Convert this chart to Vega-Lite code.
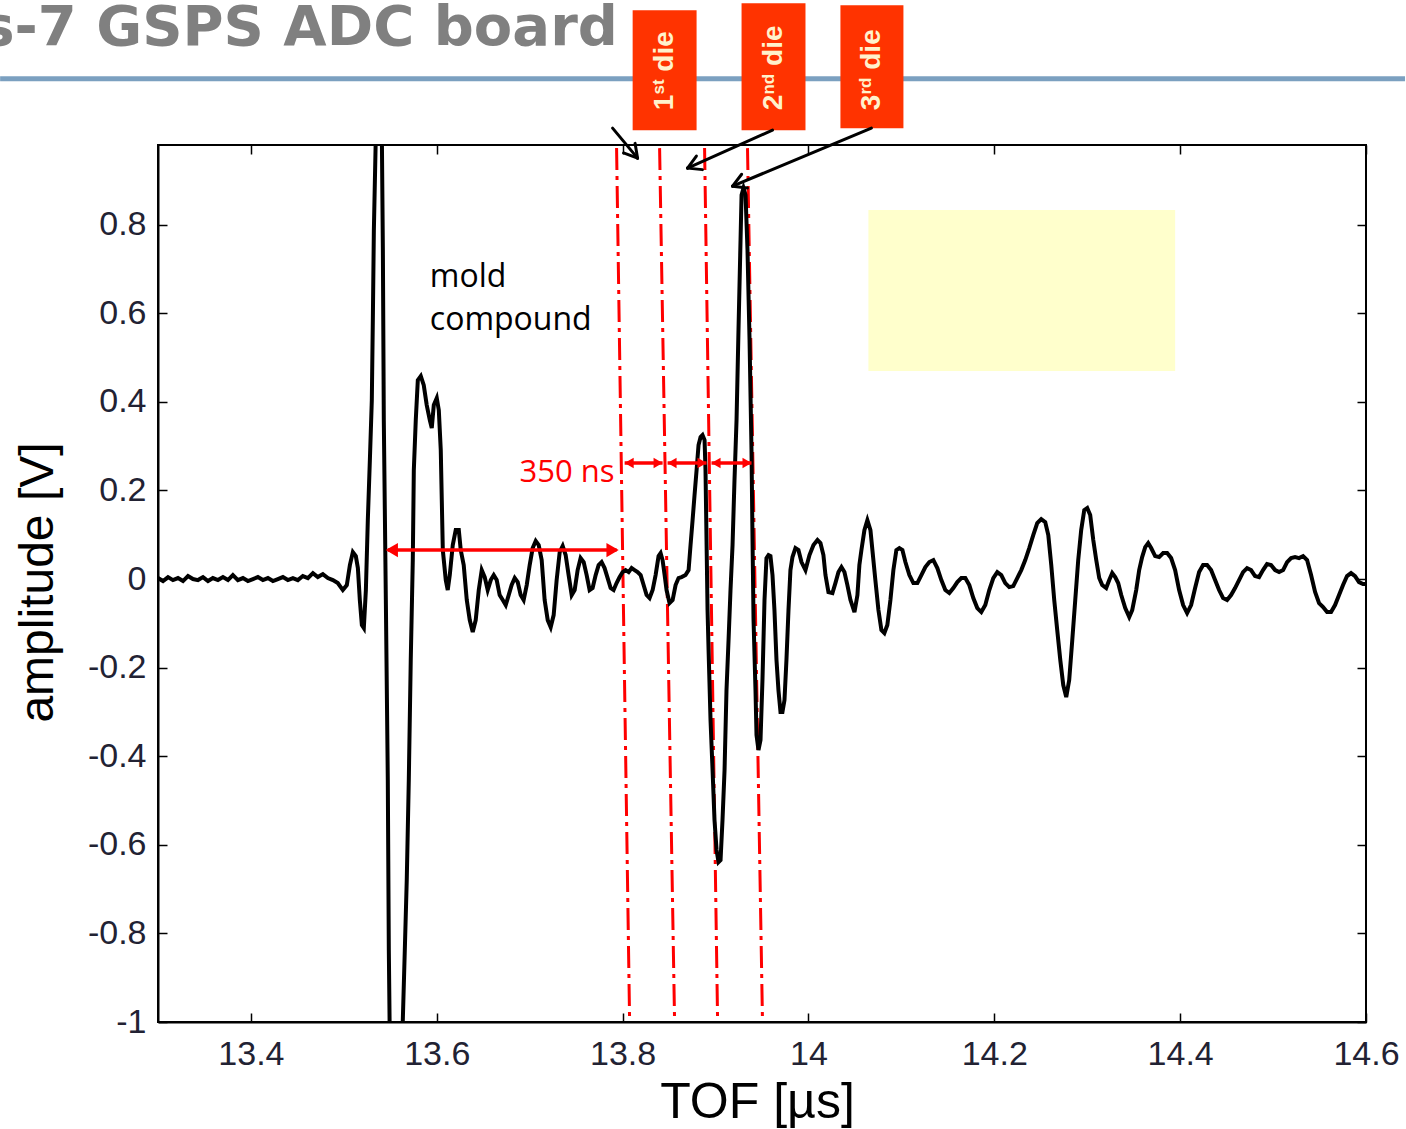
{
  "$schema": "https://vega.github.io/schema/vega-lite/v6.json",
  "width": 1208,
  "height": 877,
  "autosize": {"type": "none"},
  "padding": {"left": 158, "top": 145, "right": 40, "bottom": 107},
  "background": "white",
  "config": {"view": {"stroke": "black", "strokeWidth": 2}},
  "resolve": {"axis": {"x": "independent", "y": "independent"}},
  "datasets": {
    "wave": [
      {"t":13.3000,"v":0.0023},{"t":13.3054,"v":-0.0045},{"t":13.3108,"v":0.0045},{"t":13.3161,"v":-0.0023},{"t":13.3215,"v":0.0023},{"t":13.3269,"v":-0.0045},{"t":13.3323,"v":0.0068},{"t":13.3376,"v":0},{"t":13.3430,"v":-0.0023},{"t":13.3484,"v":0.0045},{"t":13.3538,"v":-0.0045},{"t":13.3591,"v":0.0023},{"t":13.3645,"v":-0.0023},{"t":13.3699,"v":0.0045},{"t":13.3753,"v":-0.0023},{"t":13.3806,"v":0.009},{"t":13.3860,"v":-0.0023},{"t":13.3914,"v":0.0023},{"t":13.3968,"v":-0.0045},{"t":13.4022,"v":0},{"t":13.4075,"v":0.0045},{"t":13.4129,"v":-0.0023},{"t":13.4183,"v":0.0023},{"t":13.4237,"v":-0.0045},{"t":13.4290,"v":0},{"t":13.4344,"v":0.0045},{"t":13.4398,"v":-0.0023},{"t":13.4452,"v":0.0023},{"t":13.4505,"v":-0.0023},{"t":13.4559,"v":0.0068},{"t":13.4613,"v":0.0023},{"t":13.4667,"v":0.0135},{"t":13.4720,"v":0.0045},{"t":13.4774,"v":0.0113},{"t":13.4828,"v":0.0023},{"t":13.4882,"v":-0.0023},{"t":13.4935,"v":-0.009},{"t":13.4989,"v":-0.0248},{"t":13.5032,"v":-0.0135},{"t":13.5065,"v":0.0316},{"t":13.5097,"v":0.0609},{"t":13.5129,"v":0.0519},{"t":13.5151,"v":0.0248},{"t":13.5172,"v":-0.0474},{"t":13.5194,"v":-0.1038},{"t":13.5215,"v":-0.1106},{"t":13.5237,"v":-0.0248},{"t":13.5258,"v":0.1332},{"t":13.5280,"v":0.2686},{"t":13.5301,"v":0.4041},{"t":13.5312,"v":0.5847},{"t":13.5323,"v":0.7878},{"t":13.5344,"v":1.0},{"t":13.5409,"v":1.0},{"t":13.5420,"v":0.7427},{"t":13.5430,"v":0.3589},{"t":13.5452,"v":-0.0474},{"t":13.5473,"v":-0.4537},{"t":13.5484,"v":-0.8375},{"t":13.5495,"v":-1.05},{"t":13.5624,"v":-1.05},{"t":13.5634,"v":-1.0},{"t":13.5656,"v":-0.8375},{"t":13.5677,"v":-0.6795},{"t":13.5699,"v":-0.4537},{"t":13.5720,"v":-0.1828},{"t":13.5742,"v":0.0429},{"t":13.5753,"v":0.2461},{"t":13.5774,"v":0.3589},{"t":13.5796,"v":0.4492},{"t":13.5828,"v":0.4582},{"t":13.5860,"v":0.4379},{"t":13.5892,"v":0.3928},{"t":13.5925,"v":0.3589},{"t":13.5946,"v":0.3409},{"t":13.5968,"v":0.3928},{"t":13.6000,"v":0.4086},{"t":13.6022,"v":0.3815},{"t":13.6043,"v":0.2912},{"t":13.6054,"v":0.1783},{"t":13.6065,"v":0.0655},{"t":13.6097,"v":-0.0023},{"t":13.6118,"v":-0.0248},{"t":13.6140,"v":0.009},{"t":13.6172,"v":0.0767},{"t":13.6204,"v":0.1106},{"t":13.6237,"v":0.1106},{"t":13.6258,"v":0.0655},{"t":13.6290,"v":0.0316},{"t":13.6323,"v":-0.0474},{"t":13.6355,"v":-0.0926},{"t":13.6387,"v":-0.1196},{"t":13.6419,"v":-0.0926},{"t":13.6452,"v":-0.0248},{"t":13.6484,"v":0.0203},{"t":13.6516,"v":0.0045},{"t":13.6548,"v":-0.0248},{"t":13.6581,"v":-0.0023},{"t":13.6613,"v":0.009},{"t":13.6645,"v":-0.0023},{"t":13.6677,"v":-0.0361},{"t":13.6710,"v":-0.0474},{"t":13.6742,"v":-0.0587},{"t":13.6774,"v":-0.0361},{"t":13.6806,"v":-0.0135},{"t":13.6839,"v":0.0023},{"t":13.6871,"v":-0.0068},{"t":13.6903,"v":-0.0361},{"t":13.6935,"v":-0.0474},{"t":13.6968,"v":-0.0135},{"t":13.7000,"v":0.0316},{"t":13.7032,"v":0.07},{"t":13.7065,"v":0.0858},{"t":13.7097,"v":0.0767},{"t":13.7129,"v":0.0429},{"t":13.7161,"v":-0.0474},{"t":13.7194,"v":-0.0926},{"t":13.7226,"v":-0.1084},{"t":13.7258,"v":-0.0813},{"t":13.7290,"v":-0.0023},{"t":13.7323,"v":0.0609},{"t":13.7355,"v":0.0745},{"t":13.7387,"v":0.0542},{"t":13.7419,"v":0.009},{"t":13.7452,"v":-0.0361},{"t":13.7484,"v":-0.0248},{"t":13.7516,"v":0.0203},{"t":13.7548,"v":0.0474},{"t":13.7581,"v":0.0384},{"t":13.7613,"v":0.009},{"t":13.7645,"v":-0.0248},{"t":13.7677,"v":-0.0203},{"t":13.7710,"v":0.009},{"t":13.7742,"v":0.0316},{"t":13.7774,"v":0.0384},{"t":13.7806,"v":0.0248},{"t":13.7839,"v":0.0023},{"t":13.7871,"v":-0.0203},{"t":13.7903,"v":-0.0248},{"t":13.7935,"v":-0.009},{"t":13.7968,"v":0.0045},{"t":13.8000,"v":0.0158},{"t":13.8032,"v":0.0203},{"t":13.8065,"v":0.0158},{"t":13.8097,"v":0.0248},{"t":13.8129,"v":0.0203},{"t":13.8161,"v":0.0158},{"t":13.8194,"v":0.009},{"t":13.8226,"v":-0.0135},{"t":13.8258,"v":-0.0361},{"t":13.8290,"v":-0.0429},{"t":13.8323,"v":-0.0248},{"t":13.8355,"v":0.009},{"t":13.8387,"v":0.0519},{"t":13.8409,"v":0.0587},{"t":13.8430,"v":0.0429},{"t":13.8452,"v":0.009},{"t":13.8473,"v":-0.0248},{"t":13.8505,"v":-0.0542},{"t":13.8538,"v":-0.0474},{"t":13.8570,"v":-0.0135},{"t":13.8602,"v":0.0023},{"t":13.8634,"v":0.0045},{"t":13.8677,"v":0.009},{"t":13.8710,"v":0.0203},{"t":13.8731,"v":0.0767},{"t":13.8753,"v":0.1332},{"t":13.8774,"v":0.1896},{"t":13.8796,"v":0.2461},{"t":13.8817,"v":0.3025},{"t":13.8839,"v":0.3205},{"t":13.8860,"v":0.3251},{"t":13.8882,"v":0.3138},{"t":13.8892,"v":0.2461},{"t":13.8903,"v":0.088},{"t":13.8914,"v":-0.07},{"t":13.8925,"v":-0.1603},{"t":13.8946,"v":-0.3183},{"t":13.8968,"v":-0.4312},{"t":13.8989,"v":-0.544},{"t":13.9011,"v":-0.6117},{"t":13.9032,"v":-0.6388},{"t":13.9054,"v":-0.6343},{"t":13.9075,"v":-0.544},{"t":13.9097,"v":-0.4312},{"t":13.9118,"v":-0.2506},{"t":13.9140,"v":-0.1377},{"t":13.9161,"v":-0.0248},{"t":13.9183,"v":0.0767},{"t":13.9204,"v":0.2235},{"t":13.9226,"v":0.3589},{"t":13.9247,"v":0.5621},{"t":13.9269,"v":0.7652},{"t":13.9280,"v":0.8668},{"t":13.9301,"v":0.8826},{"t":13.9323,"v":0.8668},{"t":13.9344,"v":0.7427},{"t":13.9366,"v":0.5395},{"t":13.9387,"v":0.2912},{"t":13.9398,"v":0.088},{"t":13.9409,"v":-0.0926},{"t":13.9430,"v":-0.2506},{"t":13.9441,"v":-0.3521},{"t":13.9462,"v":-0.386},{"t":13.9484,"v":-0.3634},{"t":13.9505,"v":-0.228},{"t":13.9527,"v":-0.0474},{"t":13.9548,"v":0.0474},{"t":13.9570,"v":0.0542},{"t":13.9591,"v":0.0519},{"t":13.9613,"v":0.009},{"t":13.9634,"v":-0.07},{"t":13.9656,"v":-0.1828},{"t":13.9677,"v":-0.2506},{"t":13.9699,"v":-0.3002},{"t":13.9720,"v":-0.3002},{"t":13.9742,"v":-0.2731},{"t":13.9763,"v":-0.1828},{"t":13.9785,"v":-0.07},{"t":13.9806,"v":0.0203},{"t":13.9828,"v":0.0497},{"t":13.9860,"v":0.07},{"t":13.9892,"v":0.0655},{"t":13.9925,"v":0.0384},{"t":13.9968,"v":0.0203},{"t":14.0011,"v":0.0542},{"t":14.0054,"v":0.0767},{"t":14.0097,"v":0.088},{"t":14.0129,"v":0.0813},{"t":14.0161,"v":0.0542},{"t":14.0183,"v":0.009},{"t":14.0215,"v":-0.0293},{"t":14.0258,"v":-0.0316},{"t":14.0290,"v":-0.009},{"t":14.0323,"v":0.0158},{"t":14.0355,"v":0.0271},{"t":14.0387,"v":0.0158},{"t":14.0419,"v":-0.0135},{"t":14.0452,"v":-0.0474},{"t":14.0495,"v":-0.0745},{"t":14.0527,"v":-0.0361},{"t":14.0548,"v":0.0316},{"t":14.0570,"v":0.0655},{"t":14.0602,"v":0.1106},{"t":14.0634,"v":0.1332},{"t":14.0667,"v":0.1106},{"t":14.0688,"v":0.0655},{"t":14.0720,"v":-0.0023},{"t":14.0753,"v":-0.07},{"t":14.0785,"v":-0.1151},{"t":14.0817,"v":-0.1219},{"t":14.0849,"v":-0.1038},{"t":14.0882,"v":-0.0474},{"t":14.0914,"v":0.0203},{"t":14.0946,"v":0.0655},{"t":14.0978,"v":0.07},{"t":14.1011,"v":0.0655},{"t":14.1043,"v":0.0384},{"t":14.1086,"v":0.009},{"t":14.1129,"v":-0.009},{"t":14.1172,"v":-0.009},{"t":14.1215,"v":0.009},{"t":14.1258,"v":0.0271},{"t":14.1301,"v":0.0384},{"t":14.1344,"v":0.0429},{"t":14.1387,"v":0.0248},{"t":14.1430,"v":-0.0023},{"t":14.1473,"v":-0.0248},{"t":14.1516,"v":-0.0316},{"t":14.1559,"v":-0.0203},{"t":14.1602,"v":-0.0068},{"t":14.1645,"v":0.0023},{"t":14.1688,"v":0.0023},{"t":14.1731,"v":-0.0135},{"t":14.1774,"v":-0.0429},{"t":14.1817,"v":-0.0655},{"t":14.1860,"v":-0.0745},{"t":14.1903,"v":-0.0587},{"t":14.1946,"v":-0.0248},{"t":14.1989,"v":0.0023},{"t":14.2032,"v":0.0158},{"t":14.2075,"v":0.009},{"t":14.2118,"v":-0.009},{"t":14.2161,"v":-0.0181},{"t":14.2204,"v":-0.0158},{"t":14.2247,"v":0.0023},{"t":14.2290,"v":0.0203},{"t":14.2333,"v":0.0429},{"t":14.2376,"v":0.07},{"t":14.2419,"v":0.0993},{"t":14.2462,"v":0.1264},{"t":14.2505,"v":0.1354},{"t":14.2548,"v":0.1287},{"t":14.2581,"v":0.0993},{"t":14.2613,"v":0.0316},{"t":14.2645,"v":-0.0474},{"t":14.2677,"v":-0.1151},{"t":14.2710,"v":-0.1828},{"t":14.2742,"v":-0.2393},{"t":14.2774,"v":-0.2664},{"t":14.2806,"v":-0.228},{"t":14.2839,"v":-0.1377},{"t":14.2871,"v":-0.0474},{"t":14.2903,"v":0.0429},{"t":14.2935,"v":0.1106},{"t":14.2968,"v":0.1558},{"t":14.3000,"v":0.1603},{"t":14.3032,"v":0.1445},{"t":14.3065,"v":0.088},{"t":14.3097,"v":0.0429},{"t":14.3129,"v":0.0023},{"t":14.3161,"v":-0.0135},{"t":14.3204,"v":-0.0203},{"t":14.3237,"v":-0.0023},{"t":14.3269,"v":0.0135},{"t":14.3301,"v":0.0045},{"t":14.3333,"v":-0.009},{"t":14.3366,"v":-0.0361},{"t":14.3409,"v":-0.0655},{"t":14.3452,"v":-0.0858},{"t":14.3484,"v":-0.07},{"t":14.3527,"v":-0.0248},{"t":14.3559,"v":0.0203},{"t":14.3591,"v":0.0497},{"t":14.3624,"v":0.0722},{"t":14.3656,"v":0.0813},{"t":14.3688,"v":0.07},{"t":14.3731,"v":0.0519},{"t":14.3774,"v":0.0497},{"t":14.3817,"v":0.0587},{"t":14.3860,"v":0.0587},{"t":14.3903,"v":0.0474},{"t":14.3946,"v":0.0203},{"t":14.3989,"v":-0.0248},{"t":14.4032,"v":-0.0587},{"t":14.4075,"v":-0.0767},{"t":14.4118,"v":-0.0587},{"t":14.4161,"v":-0.0203},{"t":14.4204,"v":0.0158},{"t":14.4247,"v":0.0316},{"t":14.4290,"v":0.0316},{"t":14.4333,"v":0.0203},{"t":14.4376,"v":-0.0023},{"t":14.4419,"v":-0.0248},{"t":14.4462,"v":-0.0429},{"t":14.4505,"v":-0.0474},{"t":14.4548,"v":-0.0361},{"t":14.4591,"v":-0.0203},{"t":14.4634,"v":-0.0023},{"t":14.4677,"v":0.0158},{"t":14.4720,"v":0.0248},{"t":14.4763,"v":0.0203},{"t":14.4806,"v":0.0068},{"t":14.4849,"v":0.0045},{"t":14.4892,"v":0.0203},{"t":14.4935,"v":0.0339},{"t":14.4978,"v":0.0316},{"t":14.5022,"v":0.0203},{"t":14.5065,"v":0.0158},{"t":14.5108,"v":0.0203},{"t":14.5151,"v":0.0384},{"t":14.5194,"v":0.0474},{"t":14.5237,"v":0.0497},{"t":14.5280,"v":0.0474},{"t":14.5323,"v":0.0519},{"t":14.5366,"v":0.0429},{"t":14.5409,"v":0.009},{"t":14.5452,"v":-0.0293},{"t":14.5495,"v":-0.0542},{"t":14.5538,"v":-0.0632},{"t":14.5581,"v":-0.0745},{"t":14.5624,"v":-0.0745},{"t":14.5667,"v":-0.0587},{"t":14.5710,"v":-0.0361},{"t":14.5753,"v":-0.0135},{"t":14.5796,"v":0.0068},{"t":14.5839,"v":0.0135},{"t":14.5882,"v":0.0068},{"t":14.5925,"v":-0.0068},{"t":14.5968,"v":-0.0113},{"t":14.5989,"v":-0.0113}
    ],
    "dashlines": [
      {"t":13.7935,"v":0.973,"t2":13.8075,"v2":-0.995},
      {"t":13.8398,"v":0.973,"t2":13.8559,"v2":-0.995},
      {"t":13.8882,"v":0.973,"t2":13.9022,"v2":-0.995},
      {"t":13.9344,"v":0.973,"t2":13.9505,"v2":-0.995}
    ],
    "redShafts": [
      {"t":13.5473,"t2":13.7935,"v":0.0655},
      {"t":13.8022,"t2":13.8430,"v":0.2619},
      {"t":13.8484,"t2":13.8903,"v":0.2619},
      {"t":13.8957,"t2":13.9387,"v":0.2619}
    ],
    "bigHeads": [
      {"t":13.5516,"v":0.0655,"dir":"left"},
      {"t":13.7892,"v":0.0655,"dir":"right"}
    ],
    "smallHeads": [
      {"t":13.8070,"v":0.2619,"dir":"left"},{"t":13.8382,"v":0.2619,"dir":"right"},
      {"t":13.8532,"v":0.2619,"dir":"left"},{"t":13.8855,"v":0.2619,"dir":"right"},
      {"t":13.9005,"v":0.2619,"dir":"left"},{"t":13.9339,"v":0.2619,"dir":"right"}
    ],
    "blackArrows": [
      {"t":13.7892,"v":1.0181,"t2":13.8161,"v2":0.9503},
      {"t":13.8161,"v":0.9503,"t2":13.8134,"v2":0.9837},
      {"t":13.8161,"v":0.9503,"t2":13.8010,"v2":0.9621},
      {"t":13.9613,"v":1.0135,"t2":13.8699,"v2":0.9278},
      {"t":13.8699,"v":0.9278,"t2":13.8859,"v2":0.9244},
      {"t":13.8699,"v":0.9278,"t2":13.8794,"v2":0.9551},
      {"t":14.0677,"v":1.0181,"t2":13.9183,"v2":0.8871},
      {"t":13.9183,"v":0.8871,"t2":13.9343,"v2":0.8829},
      {"t":13.9183,"v":0.8871,"t2":13.9281,"v2":0.9140}
    ],
    "boxes": [
      {"t":13.8108,"t2":13.8796,"v":1.2844,"v2":1.0135},
      {"t":13.9280,"t2":13.9968,"v":1.3002,"v2":1.0135},
      {"t":14.0344,"t2":14.1022,"v":1.2957,"v2":1.0180}
    ],
    "boxMain": [
      {"t":13.8538,"v":1.0587,"s":"1"},{"t":13.8538,"v":1.1456,"s":"die"},
      {"t":13.9720,"v":1.0587,"s":"2"},{"t":13.9720,"v":1.1585,"s":"die"},
      {"t":14.0774,"v":1.0587,"s":"3"},{"t":14.0774,"v":1.1499,"s":"die"}
    ],
    "boxSup": [
      {"t":13.8441,"v":1.0939,"s":"st"},
      {"t":13.9624,"v":1.0939,"s":"nd"},
      {"t":14.0677,"v":1.0939,"s":"rd"}
    ],
    "yellow": [{"t":14.0645,"t2":14.3946,"v":0.833,"v2":0.4695}],
    "title": [{"t":13.1097,"v":1.2054,"s":"s-7 GSPS ADC board"}],
    "blueLine": [{"t":13.1301,"t2":14.642,"v":1.1298}],
    "mold": [{"t":13.5925,"v":0.6591,"s":"mold"},{"t":13.5925,"v":0.5621,"s":"compound"}],
    "ns": [{"t":13.7914,"v":0.219,"s":"350 ns"}]
  },
  "layer": [
    {
      "data": {"name": "yellow"},
      "mark": {"type": "rect", "color": "#FFFFCC"},
      "encoding": {
        "x": {"field": "t", "type": "quantitative", "scale": {"domain": [13.3, 14.6], "nice": false, "zero": false},
              "axis": {"orient": "top", "values": [13.4,13.6,13.8,14,14.2,14.4,14.6], "labels": false, "title": null, "grid": false, "domain": false, "tickSize": -9, "tickColor": "black", "tickWidth": 1.5}},
        "x2": {"field": "t2"},
        "y": {"field": "v", "type": "quantitative", "scale": {"domain": [-1, 0.98], "nice": false, "zero": false},
              "axis": {"orient": "right", "values": [-1,-0.8,-0.6,-0.4,-0.2,0,0.2,0.4,0.6,0.8], "labels": false, "title": null, "grid": false, "domain": false, "tickSize": -9, "tickColor": "black", "tickWidth": 1.5}},
        "y2": {"field": "v2"}
      }
    },
    {
      "data": {"name": "title"},
      "mark": {"type": "text", "align": "left", "baseline": "alphabetic", "font": "DejaVu Sans", "fontWeight": "bold", "fontSize": 56, "color": "#808080"},
      "encoding": {
        "x": {"field": "t", "type": "quantitative", "scale": {"domain": [13.3, 14.6], "nice": false, "zero": false}, "axis": null},
        "y": {"field": "v", "type": "quantitative", "scale": {"domain": [-1, 0.98], "nice": false, "zero": false}, "axis": null},
        "text": {"field": "s"}
      }
    },
    {
      "data": {"name": "blueLine"},
      "mark": {"type": "rule", "color": "#7BA0C0", "strokeWidth": 5},
      "encoding": {
        "x": {"field": "t", "type": "quantitative", "scale": {"domain": [13.3, 14.6], "nice": false, "zero": false}, "axis": null},
        "x2": {"field": "t2"},
        "y": {"field": "v", "type": "quantitative", "scale": {"domain": [-1, 0.98], "nice": false, "zero": false}, "axis": null}
      }
    },
    {
      "data": {"name": "boxes"},
      "mark": {"type": "rect", "color": "#FF3300"},
      "encoding": {
        "x": {"field": "t", "type": "quantitative", "scale": {"domain": [13.3, 14.6], "nice": false, "zero": false}, "axis": null},
        "x2": {"field": "t2"},
        "y": {"field": "v", "type": "quantitative", "scale": {"domain": [-1, 0.98], "nice": false, "zero": false}, "axis": null},
        "y2": {"field": "v2"}
      }
    },
    {
      "data": {"name": "boxMain"},
      "mark": {"type": "text", "angle": 270, "align": "left", "baseline": "alphabetic", "font": "Liberation Sans", "fontWeight": "bold", "fontSize": 28, "color": "#FFF2CC"},
      "encoding": {
        "x": {"field": "t", "type": "quantitative", "scale": {"domain": [13.3, 14.6], "nice": false, "zero": false}, "axis": null},
        "y": {"field": "v", "type": "quantitative", "scale": {"domain": [-1, 0.98], "nice": false, "zero": false}, "axis": null},
        "text": {"field": "s"}
      }
    },
    {
      "data": {"name": "boxSup"},
      "mark": {"type": "text", "angle": 270, "align": "left", "baseline": "alphabetic", "font": "Liberation Sans", "fontWeight": "bold", "fontSize": 17, "color": "#FFF2CC"},
      "encoding": {
        "x": {"field": "t", "type": "quantitative", "scale": {"domain": [13.3, 14.6], "nice": false, "zero": false}, "axis": null},
        "y": {"field": "v", "type": "quantitative", "scale": {"domain": [-1, 0.98], "nice": false, "zero": false}, "axis": null},
        "text": {"field": "s"}
      }
    },
    {
      "data": {"name": "dashlines"},
      "mark": {"type": "rule", "color": "#FF0000", "strokeWidth": 3, "strokeDash": [22, 6, 4, 6]},
      "encoding": {
        "x": {"field": "t", "type": "quantitative", "scale": {"domain": [13.3, 14.6], "nice": false, "zero": false}, "axis": null},
        "x2": {"field": "t2"},
        "y": {"field": "v", "type": "quantitative", "scale": {"domain": [-1, 0.98], "nice": false, "zero": false}, "axis": null},
        "y2": {"field": "v2"}
      }
    },
    {
      "data": {"name": "wave"},
      "mark": {"type": "line", "color": "black", "strokeWidth": 4, "clip": true, "strokeJoin": "miter"},
      "encoding": {
        "x": {"field": "t", "type": "quantitative", "scale": {"domain": [13.3, 14.6], "nice": false, "zero": false},
              "axis": {"orient": "bottom", "values": [13.4,13.6,13.8,14,14.2,14.4,14.6], "format": ".1~f", "title": "TOF [µs]", "grid": false,
                       "tickSize": -9, "tickColor": "black", "tickWidth": 1.5, "domainColor": "black", "domainWidth": 2,
                       "labelFont": "Liberation Sans", "labelFontSize": 34, "labelColor": "#222233", "labelPadding": 24, "labelFlush": false, "labelOverlap": false,
                       "titleFont": "Liberation Sans", "titleFontSize": 50, "titleFontWeight": "normal", "titleColor": "black", "titleBaseline": "alphabetic", "titleY": 95, "titleX": 599}},
        "y": {"field": "v", "type": "quantitative", "scale": {"domain": [-1, 0.98], "nice": false, "zero": false},
              "axis": {"orient": "left", "values": [-1,-0.8,-0.6,-0.4,-0.2,0,0.2,0.4,0.6,0.8], "labelExpr": "replace(format(datum.value, '.1~f'), '−', '-')", "title": "amplitude [V]", "grid": false,
                       "tickSize": -9, "tickColor": "black", "tickWidth": 1.5, "domainColor": "black", "domainWidth": 2,
                       "labelFont": "Liberation Sans", "labelFontSize": 34, "labelColor": "#222233", "labelPadding": 21, "labelOverlap": false, "labelFlush": false,
                       "titleFont": "Liberation Sans", "titleFontSize": 48, "titleFontWeight": "normal", "titleColor": "black", "titleAngle": 270, "titleBaseline": "alphabetic", "titleAlign": "center", "titleX": -106, "titleY": 437}}
      }
    },
    {
      "data": {"name": "redShafts"},
      "mark": {"type": "rule", "color": "#FF0000", "strokeWidth": 3.5},
      "encoding": {
        "x": {"field": "t", "type": "quantitative", "scale": {"domain": [13.3, 14.6], "nice": false, "zero": false}, "axis": null},
        "x2": {"field": "t2"},
        "y": {"field": "v", "type": "quantitative", "scale": {"domain": [-1, 0.98], "nice": false, "zero": false}, "axis": null}
      }
    },
    {
      "data": {"name": "bigHeads"},
      "mark": {"type": "point", "filled": true, "color": "#FF0000", "opacity": 1, "size": 200, "strokeWidth": 0},
      "encoding": {
        "x": {"field": "t", "type": "quantitative", "scale": {"domain": [13.3, 14.6], "nice": false, "zero": false}, "axis": null},
        "y": {"field": "v", "type": "quantitative", "scale": {"domain": [-1, 0.98], "nice": false, "zero": false}, "axis": null},
        "shape": {"field": "dir", "type": "nominal", "scale": {"domain": ["left", "right"], "range": ["triangle-left", "triangle-right"]}, "legend": null}
      }
    },
    {
      "data": {"name": "smallHeads"},
      "mark": {"type": "point", "filled": true, "color": "#FF0000", "opacity": 1, "size": 110, "strokeWidth": 0},
      "encoding": {
        "x": {"field": "t", "type": "quantitative", "scale": {"domain": [13.3, 14.6], "nice": false, "zero": false}, "axis": null},
        "y": {"field": "v", "type": "quantitative", "scale": {"domain": [-1, 0.98], "nice": false, "zero": false}, "axis": null},
        "shape": {"field": "dir", "type": "nominal", "scale": {"domain": ["left", "right"], "range": ["triangle-left", "triangle-right"]}, "legend": null}
      }
    },
    {
      "data": {"name": "blackArrows"},
      "mark": {"type": "rule", "color": "black", "strokeWidth": 3, "strokeCap": "round"},
      "encoding": {
        "x": {"field": "t", "type": "quantitative", "scale": {"domain": [13.3, 14.6], "nice": false, "zero": false}, "axis": null},
        "x2": {"field": "t2"},
        "y": {"field": "v", "type": "quantitative", "scale": {"domain": [-1, 0.98], "nice": false, "zero": false}, "axis": null},
        "y2": {"field": "v2"}
      }
    },
    {
      "data": {"name": "mold"},
      "mark": {"type": "text", "align": "left", "baseline": "alphabetic", "font": "Open Sans", "fontSize": 32, "color": "black"},
      "encoding": {
        "x": {"field": "t", "type": "quantitative", "scale": {"domain": [13.3, 14.6], "nice": false, "zero": false}, "axis": null},
        "y": {"field": "v", "type": "quantitative", "scale": {"domain": [-1, 0.98], "nice": false, "zero": false}, "axis": null},
        "text": {"field": "s"}
      }
    },
    {
      "data": {"name": "ns"},
      "mark": {"type": "text", "align": "right", "baseline": "alphabetic", "font": "Open Sans", "fontSize": 31, "color": "#FF0000"},
      "encoding": {
        "x": {"field": "t", "type": "quantitative", "scale": {"domain": [13.3, 14.6], "nice": false, "zero": false}, "axis": null},
        "y": {"field": "v", "type": "quantitative", "scale": {"domain": [-1, 0.98], "nice": false, "zero": false}, "axis": null},
        "text": {"field": "s"}
      }
    }
  ]
}
